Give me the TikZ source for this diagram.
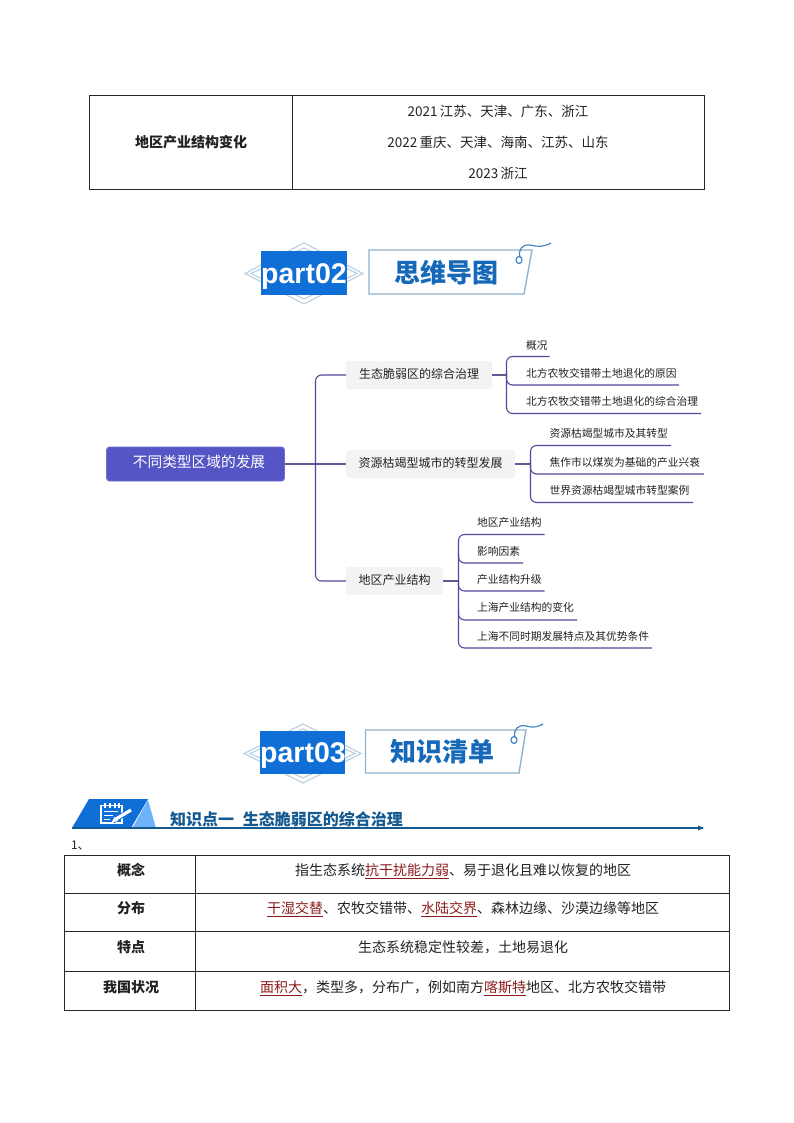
\documentclass[tikz,border=0pt]{standalone}
\usepackage{fontspec}
\setmainfont{Noto Sans CJK SC}
\newfontfamily\latinf{Liberation Sans}
\usetikzlibrary{calc}
\definecolor{mainpurple}{HTML}{5555C6}
\definecolor{linepurple}{HTML}{4F4A9E}
\definecolor{greybox}{HTML}{F3F3F3}
\definecolor{partblue}{HTML}{0F6FD6}
\definecolor{framebl}{HTML}{8FB2CF}
\definecolor{headbl}{HTML}{1668B8}
\definecolor{secbl}{HTML}{14598F}
\definecolor{lightbl}{HTML}{6DB3FA}
\definecolor{redt}{HTML}{8B1A1A}
\definecolor{txt}{HTML}{222222}
\tikzset{
 x=1pt,y=-1pt,
 every node/.style={inner sep=0,outer sep=0,text=txt},
 tline/.style={draw=black!85,line width=.9pt},
 celltxt/.style={font=\fontsize{14}{16}\selectfont,anchor=center},
 cellbold/.style={font=\fontsize{14}{16}\selectfont\bfseries,anchor=center},
 branchbox/.style={fill=greybox,rounded corners=3pt,minimum height=28pt,anchor=west},
 branchtxt/.style={font=\fontsize{12}{14}\selectfont},
 leaf/.style={anchor=west,font=\fontsize{10.75}{12}\selectfont},
 conn/.style={draw=linepurple,line width=1.1pt,rounded corners=6pt},
 connf/.style={draw=linepurple!70!gray,line width=1.1pt},
 partbox/.style={fill=partblue,anchor=center},
 parttxt/.style={font=\latinf\fontsize{28.5}{30}\selectfont\bfseries,text=white},
 diam/.style={draw=framebl!60,line width=1.2pt,fill=white},
 frameb/.style={draw=framebl,line width=1.4pt,fill=white},
 headt/.style={font=\fontsize{26}{28}\selectfont\bfseries,text=headbl},
 hook/.style={draw=headbl!80,line width=1.2pt},
}
\begin{document}
\begin{tikzpicture}
\useasboundingbox (0,0) rectangle (794,1123);
\fill[white] (0,0) rectangle (794,1123);
% top table
\draw[tline] (89.5,95) rectangle (704.5,189) (292.5,95) -- (292.5,189);
\node[cellbold] (t0) at (191,142) {地区产业结构变化};
\node[celltxt,font=\fontsize{13.5}{16}\selectfont] (t1) at (498,111.5) {2021\,江苏、天津、广东、浙江};
\node[celltxt,font=\fontsize{13.5}{16}\selectfont] (t2) at (498,142.5) {2022\,重庆、天津、海南、江苏、山东};
\node[celltxt,font=\fontsize{13.5}{16}\selectfont] (t3) at (498,173.5) {2023\,浙江};
% part02 banner
\draw[diam] (245,273.5) -- (304,243) -- (363,273.5) -- (304,304) -- cycle;
\draw[diam] (251,273.5) -- (304,248) -- (357,273.5) -- (304,299) -- cycle;
\node[partbox,minimum width=86pt,minimum height=44pt] (p2) at (304,273) {};
\node[parttxt] (p2t) at (304,276.5) {part02};
\draw[frameb] (369,250) -- (532,250) -- (524,294) -- (369,294) -- cycle;
\node[headt] (h2) at (446.5,272.5) {思维导图};
\draw[hook] (520,257) .. controls (518,250) and (522,244) .. (530,245) .. controls (538,247) and (544,247) .. (551,243);
\draw[hook] (519,260) ellipse (3pt and 3.5pt);
% mind map
\node[fill=mainpurple,draw=mainpurple!85!white,line width=.8pt,rounded corners=3pt,minimum width=178pt,minimum height=34pt,anchor=west] (root) at (106.5,464) {};
\node[font=\fontsize{14.7}{16}\selectfont,text=white] (roott) at (199,462) {不同类型区域的发展};
\node[branchbox,minimum width=146pt] (b1) at (346,375) {};
\node[branchtxt] (b1t) at (419,374) {生态脆弱区的综合治理};
\node[branchbox,minimum width=169pt] (b2) at (346,464) {};
\node[branchtxt] (b2t) at (430.5,463) {资源枯竭型城市的转型发展};
\node[branchbox,minimum width=97pt] (b3) at (346,581) {};
\node[branchtxt] (b3t) at (394.5,580) {地区产业结构};
\draw[connf] (root.east) -- (b2.west);
\draw[conn] (b1.west) -- (315.5,375) -- (315.5,581) -- (b3.west);
% branch 1
\node[leaf] (l11) at (526,345) {概况};
\node[leaf] (l12) at (526,373) {北方农牧交错带土地退化的原因};
\node[leaf] (l13) at (526,401) {北方农牧交错带土地退化的综合治理};
\coordinate (e11) at (549.5,356.5);
\coordinate (e12) at (679,385);
\coordinate (e13) at (701,413.5);
\draw[connf] (b1.east) -- (506.5,375);
\draw[conn] (e11) -- (506.5,356.5) -- (506.5,413.5) -- (e13);
\draw[conn] (506.5,372) -- (506.5,385) -- (e12);
% branch 2
\node[leaf] (l21) at (549.5,433) {资源枯竭型城市及其转型};
\node[leaf] (l22) at (549.5,462) {焦作市以煤炭为基础的产业兴衰};
\node[leaf] (l23) at (549.5,490) {世界资源枯竭型城市转型案例};
\coordinate (e21) at (671,445.5);
\coordinate (e22) at (704,474);
\coordinate (e23) at (693,502.5);
\draw[connf] (b2.east) -- (530.5,464);
\draw[conn] (e21) -- (530.5,445.5) -- (530.5,502.5) -- (e23);
\draw[conn] (530.5,461) -- (530.5,474) -- (e22);
% branch 3
\node[leaf] (l31) at (477,522) {地区产业结构};
\node[leaf] (l32) at (477,551) {影响因素};
\node[leaf] (l33) at (477,579) {产业结构升级};
\node[leaf] (l34) at (477,607) {上海产业结构的变化};
\node[leaf] (l35) at (477,636) {上海不同时期发展特点及其优势条件};
\coordinate (e31) at (544.5,534.5);
\coordinate (e32) at (523,563);
\coordinate (e33) at (544.5,591);
\coordinate (e34) at (577,620);
\coordinate (e35) at (652,648);
\draw[connf] (b3.east) -- (458.5,581);
\draw[conn] (e31) -- (458.5,534.5) -- (458.5,648) -- (e35);
\draw[conn] (458.5,553) -- (458.5,563) -- (e32);
\draw[conn] (458.5,581) -- (458.5,591) -- (e33);
\draw[conn] (458.5,610) -- (458.5,620) -- (e34);
% part03 banner
\draw[diam] (244,753.5) -- (303,724) -- (361,753.5) -- (303,783) -- cycle;
\draw[diam] (250,753.5) -- (303,729) -- (355,753.5) -- (303,778) -- cycle;
\node[partbox,minimum width=85pt,minimum height=43pt] (p3) at (302.5,752) {};
\node[parttxt] (p3t) at (303,755.5) {part03};
\draw[frameb] (365.5,730) -- (526,730) -- (519,773) -- (365.5,773) -- cycle;
\node[headt] (h3) at (442,751.5) {知识清单};
\draw[hook] (515,737) .. controls (513,730) and (518,724) .. (526,726) .. controls (533,728) and (538,727) .. (543,724);
\draw[hook] (514,740) ellipse (3pt and 3.5pt);
% section header
\fill[partblue] (72,828) -- (89,799) -- (148,799) -- (131,828) -- cycle;
\fill[lightbl] (148,800) -- (132.5,828) -- (156,828) -- cycle;
\draw[white,line width=1.1pt] (101,805.5) rectangle (122,823);
\draw[white,line width=1.1pt] (105,803) -- (105,808) (110,803) -- (110,808) (115,803) -- (115,808) (119,803) -- (119,808);
\draw[white,line width=1pt] (104,811) -- (118,811) (104,815) -- (113,815) (104,819) -- (110,819);
\draw[partblue,line width=5pt] (113,821) -- (131,810);
\draw[white,line width=3.2pt] (116,819) -- (131,810);
\fill[white] (111.5,822.5) -- (114.5,817) -- (118,821) -- cycle;
\node[anchor=west,font=\fontsize{16}{18}\selectfont\bfseries,text=secbl] (sec) at (170,819) {知识点一\hspace{9pt}生态脆弱区的综合治理};
\coordinate (secl) at (72,828);
\coordinate (secr) at (703,828);
\draw[secbl,line width=1.3pt] (secl) -- (secr);
\fill[secbl] (704,828) -- (698,825.5) -- (698,830.5) -- cycle;
\node[anchor=west,font=\fontsize{12}{14}\selectfont] (one) at (71,846) {1、};
% lower table
\draw[tline] (64.5,855.5) rectangle (729.5,1010.5);
\draw[tline] (195.5,855.5) -- (195.5,1010.5);
\draw[tline] (64.5,893.5) -- (729.5,893.5) (64.5,931.5) -- (729.5,931.5) (64.5,971.5) -- (729.5,971.5);
\node[cellbold] (c1) at (131,870) {概念};
\node[cellbold] (c2) at (131,908) {分布};
\node[cellbold] (c3) at (131,947) {特点};
\node[cellbold] (c4) at (131,987) {我国状况};
\newcommand{\redu}[1]{\textcolor{redt}{\underline{#1}}}
\node[celltxt] (d1) at (463,871) {指生态系统\redu{抗干扰能力弱}、易于退化且难以恢复的地区};
\node[celltxt] (d2) at (463,909) {\redu{干湿交替}、农牧交错带、\redu{水陆交界}、森林边缘、沙漠边缘等地区};
\node[celltxt] (d3) at (463,947.5) {生态系统稳定性较差，土地易退化};
\node[celltxt] (d4) at (463,988) {\redu{面积大}，类型多，分布广，例如南方\redu{喀斯特}地区、北方农牧交错带};
\end{tikzpicture}
\end{document}
